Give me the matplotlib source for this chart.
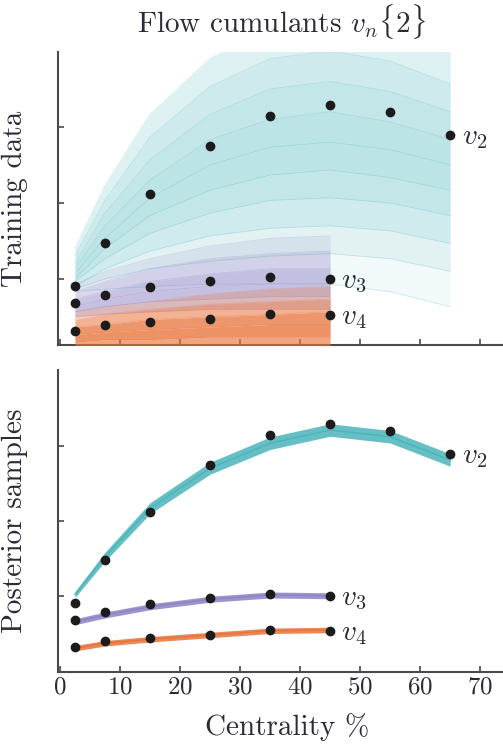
import matplotlib
matplotlib.use("Agg")
import matplotlib.pyplot as plt
import numpy as np

plt.rcParams['font.family'] = 'serif'
plt.rcParams['font.serif'] = ['cmr10', 'DejaVu Serif']
plt.rcParams['mathtext.fontset'] = 'cm'
plt.rcParams['axes.formatter.use_mathtext'] = True

# ---------------- data ----------------
cent_v2 = [2.5, 7.5, 15, 25, 35, 45, 55, 65]
cent_v34 = [2.5, 7.5, 15, 25, 35, 45]

exp_v2 = [0.0272, 0.0442, 0.0636, 0.0825, 0.0943, 0.0987, 0.0959, 0.0868]
exp_v3 = [0.0205, 0.0237, 0.0268, 0.0292, 0.0308, 0.0300]
exp_v4 = [0.0095, 0.0118, 0.0130, 0.0142, 0.0162, 0.0158]

# training-data ensemble envelopes (low -> high)
train_v2 = [
    [0.025, 0.026, 0.027, 0.028, 0.028, 0.028, 0.025, 0.019],
    [0.026, 0.030, 0.034, 0.037, 0.039, 0.040, 0.038, 0.033],
    [0.027, 0.034, 0.041, 0.047, 0.050, 0.051, 0.049, 0.044],
    [0.029, 0.038, 0.048, 0.056, 0.061, 0.062, 0.060, 0.055],
    [0.030, 0.042, 0.055, 0.065, 0.071, 0.073, 0.070, 0.065],
    [0.032, 0.046, 0.062, 0.075, 0.082, 0.084, 0.081, 0.075],
    [0.034, 0.051, 0.069, 0.085, 0.093, 0.096, 0.092, 0.085],
    [0.036, 0.056, 0.077, 0.095, 0.105, 0.108, 0.104, 0.096],
    [0.039, 0.061, 0.086, 0.106, 0.117, 0.120, 0.116, 0.107],
    [0.042, 0.067, 0.095, 0.117, 0.129, 0.133, 0.128, 0.119],
]
dens_v2 = [0.07, 0.16, 0.26, 0.33, 0.37, 0.37, 0.33, 0.27, 0.19]

train_v3 = [
    [0.015, 0.016, 0.017, 0.018, 0.018, 0.018],
    [0.017, 0.019, 0.021, 0.022, 0.023, 0.023],
    [0.019, 0.022, 0.025, 0.027, 0.028, 0.028],
    [0.022, 0.025, 0.029, 0.032, 0.034, 0.034],
    [0.025, 0.029, 0.034, 0.038, 0.040, 0.041],
    [0.028, 0.033, 0.038, 0.043, 0.046, 0.047],
]
dens_v3 = [0.35, 0.5, 0.48, 0.32, 0.14]

train_v4 = [
    [0.002, 0.002, 0.002, 0.002, 0.002, 0.002],
    [0.005, 0.006, 0.006, 0.007, 0.007, 0.007],
    [0.008, 0.009, 0.010, 0.011, 0.012, 0.012],
    [0.011, 0.012, 0.014, 0.015, 0.016, 0.017],
    [0.014, 0.016, 0.018, 0.020, 0.021, 0.022],
    [0.017, 0.019, 0.021, 0.024, 0.026, 0.027],
]
dens_v4 = [0.65, 0.78, 0.75, 0.55, 0.28]

# posterior bands: centre and half-width
post_v2 = [0.0305, 0.0456, 0.0650, 0.0810, 0.0910, 0.0963, 0.0936, 0.0843]
post_v2_hw = [0.0012, 0.0018, 0.0022, 0.0024, 0.0025, 0.0025, 0.0025, 0.0025]
post_v3 = [0.0196, 0.0223, 0.0256, 0.0286, 0.0303, 0.0300]
post_v3_hw = [0.0012, 0.0012, 0.0012, 0.0012, 0.0012, 0.0012]
post_v4 = [0.0090, 0.0110, 0.0126, 0.0143, 0.0160, 0.0163]
post_v4_hw = [0.0011, 0.0011, 0.0011, 0.0011, 0.0011, 0.0011]

xticks = [0, 10, 20, 30, 40, 50, 60, 70]
yticks = [0.03, 0.06, 0.09]

c_v2 = '#4bb4ba'
c_v3 = '#8c82c6'
c_v4 = '#e8733a'
c_txt = '#2b2b38'
c_spine = '#4a4a4a'

# ---------------- figure ----------------
fig = plt.figure(figsize=(5.03, 7.44), dpi=100)
ax1 = fig.add_axes([58/503, 1-345/744, 445/503, 293/744])
ax2 = fig.add_axes([58/503, 1-672/744, 445/503, 302/744])

for ax in (ax1, ax2):
    for s in ('top', 'right'):
        ax.spines[s].set_visible(False)
    for s in ('left', 'bottom'):
        ax.spines[s].set_color(c_spine)
        ax.spines[s].set_linewidth(1.5)
    ax.set_xlim(-0.33, 73.8)
    ax.set_xticks(xticks)
    ax.set_yticks(yticks)
    ax.tick_params(direction='in', length=4, width=1.2, color=c_spine,
                   labelsize=18, labelcolor=c_txt)
    ax.set_yticklabels([])

ax1.set_xticklabels([])
ax1.set_ylim(0.0039, 0.1196)
ax2.set_ylim(-0.0005, 0.1203)

# ---- top: training ensembles ----
def draw_ensemble(ax, x, curves, dens, color, z):
    for i in range(len(curves) - 1):
        ax.fill_between(x, curves[i], curves[i + 1], color=color,
                        alpha=dens[i], lw=0, zorder=z)
    for c in curves:
        ax.plot(x, c, color=color, lw=0.6, alpha=0.25, zorder=z)

draw_ensemble(ax1, cent_v2, train_v2, dens_v2, c_v2, 1)
draw_ensemble(ax1, cent_v34, train_v3, dens_v3, c_v3, 2)
draw_ensemble(ax1, cent_v34, train_v4, dens_v4, c_v4, 3)

# ---- bottom: posterior bands ----
def draw_band(ax, x, c, hw, color):
    c = np.asarray(c); hw = np.asarray(hw)
    ax.fill_between(x, c - hw, c + hw, color=color, alpha=0.85, lw=0, zorder=2)
    ax.plot(x, c, color=color, lw=1.0, zorder=2)

draw_band(ax2, cent_v2, post_v2, post_v2_hw, c_v2)
draw_band(ax2, cent_v34, post_v3, post_v3_hw, c_v3)
draw_band(ax2, cent_v34, post_v4, post_v4_hw, c_v4)

# ---- experimental points and labels ----
for ax in (ax1, ax2):
    for x, y in ((cent_v2, exp_v2), (cent_v34, exp_v3), (cent_v34, exp_v4)):
        ax.plot(x, y, 'o', color='#1c1c1c', ms=6, zorder=5, clip_on=False)
    ax.text(67, exp_v2[-1] - 0.0012, r'$v_2$', fontsize=21, color=c_txt,
            va='center', ha='left')
    ax.text(46.8, exp_v3[-1] - 0.0012, r'$v_3$', fontsize=21, color=c_txt,
            va='center', ha='left')
    ax.text(46.8, exp_v4[-1] - 0.0012, r'$v_4$', fontsize=21, color=c_txt,
            va='center', ha='left')

ax1.set_ylabel('Training data', fontsize=21, color=c_txt)
ax2.set_ylabel('Posterior samples', fontsize=21, color=c_txt)
ax1.yaxis.set_label_coords(-30/445, 0.5)
ax2.yaxis.set_label_coords(-30/445, 0.5)

ax2.set_xlabel('Centrality %', fontsize=21, color=c_txt)
ax2.xaxis.set_label_coords((287-58)/445, (672-727)/302)
ax2.xaxis.label.set_va('center')
fig.text(281/503, 1-22/744, r'Flow cumulants $v_n\{2\}$', fontsize=21,
         color=c_txt, ha='center', va='center')

fig.savefig('out.png', dpi=100)
